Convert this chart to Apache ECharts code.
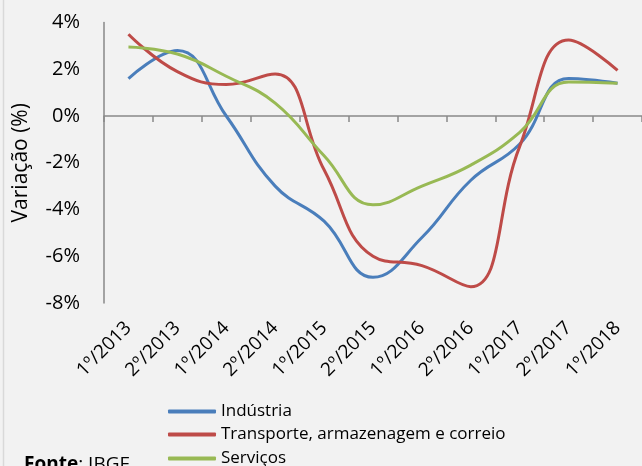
<!DOCTYPE html>
<html>
<head>
<meta charset="utf-8">
<script src="https://cdn.jsdelivr.net/npm/echarts@6/dist/echarts.min.js"></script>
<style>
  html, body { margin: 0; padding: 0; background: #f2f2f2; }
  #chart { width: 642px; height: 466px; }
</style>
</head>
<body>
<div id="chart"></div>
<script>
// semestres
const categories = ['1º/2013', '2º/2013', '1º/2014', '2º/2014', '1º/2015', '2º/2015',
  '1º/2016', '2º/2016', '1º/2017', '2º/2017', '1º/2018']

// variação (%)
const industria = [1.6, 2.8, 0.0, -3.0, -4.5, -6.9, -5.2, -2.75, -1.2, 1.6, 1.4]
const transporte = [3.5, 1.9, 1.35, 1.8, -2.3, -6.0, -6.4, -7.3, -1.3, 3.25, 1.95]
const servicos = [2.95, 2.65, 1.7, 0.55, -1.7, -3.8, -3.0, -2.1, -0.7, 1.45, 1.4]

const seriesNames = ['Indústria', 'Transporte, armazenagem e correio', 'Serviços']

const yTicks = { min: -8, max: 4, interval: 2 }

const fontFamily = '"Open Sans", "Liberation Sans", sans-serif'
const axisGray = '#898989'

const chart = echarts.init(document.getElementById('chart'))

const lineSeries = (name, data, color) => ({
	name: name,
	type: 'line',
	data: data,
	smooth: 0.45,
	symbol: 'none',
	xAxisIndex: 0,
	lineStyle: { width: 3, color: color },
	itemStyle: { color: color }
})

// uma legenda por linha, empilhadas
const legendRow = (name, top) => ({
	orient: 'vertical',
	left: 163,
	top: top,
	itemWidth: 48,
	itemHeight: 4,
	icon: 'roundRect',
	textStyle: { fontSize: 17, color: '#000', fontFamily: fontFamily },
	data: [name]
})

const option = {
	backgroundColor: '#f2f2f2',
	animation: false,
	grid: { left: 104, right: 0, top: 22.5, bottom: 163, containLabel: false },
	xAxis: [
		{
			// rótulos embaixo
			type: 'category',
			data: categories,
			boundaryGap: true,
			position: 'bottom',
			axisLine: { show: false, onZero: false },
			axisTick: { show: false },
			axisLabel: {
				interval: 0,
				rotate: 45,
				margin: 22,
				fontSize: 19,
				color: '#000',
				fontFamily: fontFamily
			}
		},
		{
			// linha do zero com marcações
			type: 'category',
			data: categories,
			boundaryGap: true,
			position: 'bottom',
			axisLine: { show: true, onZero: true, lineStyle: { color: axisGray, width: 1.5 } },
			axisTick: { show: true, interval: 0, length: 6, lineStyle: { color: axisGray, width: 1.5 } },
			axisLabel: { show: false }
		}
	],
	yAxis: {
		type: 'value',
		min: yTicks.min,
		max: yTicks.max,
		interval: yTicks.interval,
		name: 'Variação (%)',
		nameLocation: 'middle',
		nameGap: 72,
		nameTextStyle: { fontSize: 21, color: '#000', fontFamily: fontFamily },
		axisLine: { show: true, lineStyle: { color: axisGray, width: 1.5 } },
		axisTick: { show: false },
		splitLine: { show: false },
		axisLabel: {
			formatter: '{value}%',
			margin: 24,
			fontSize: 20,
			color: '#000',
			fontFamily: fontFamily
		}
	},
	legend: [
		legendRow(seriesNames[0], 398),
		legendRow(seriesNames[1], 421),
		legendRow(seriesNames[2], 445)
	],
	graphic: [
		{
			type: 'line',
			shape: { x1: 3.5, y1: 0, x2: 3.5, y2: 466 },
			style: { stroke: '#d9d9d9', lineWidth: 1.5 }
		},
		{
			type: 'text',
			left: 24,
			top: 455,
			style: {
				text: '{b|Fonte}: IBGE',
				font: '19px ' + fontFamily,
				fill: '#000',
				rich: { b: { fontWeight: 'bold', fontSize: 19, fontFamily: fontFamily } }
			}
		}
	],
	series: [
		lineSeries(seriesNames[0], industria, '#4a7ebb'),
		lineSeries(seriesNames[1], transporte, '#be4b48'),
		lineSeries(seriesNames[2], servicos, '#98b954')
	]
}

chart.setOption(option)
</script>
</body>
</html>
